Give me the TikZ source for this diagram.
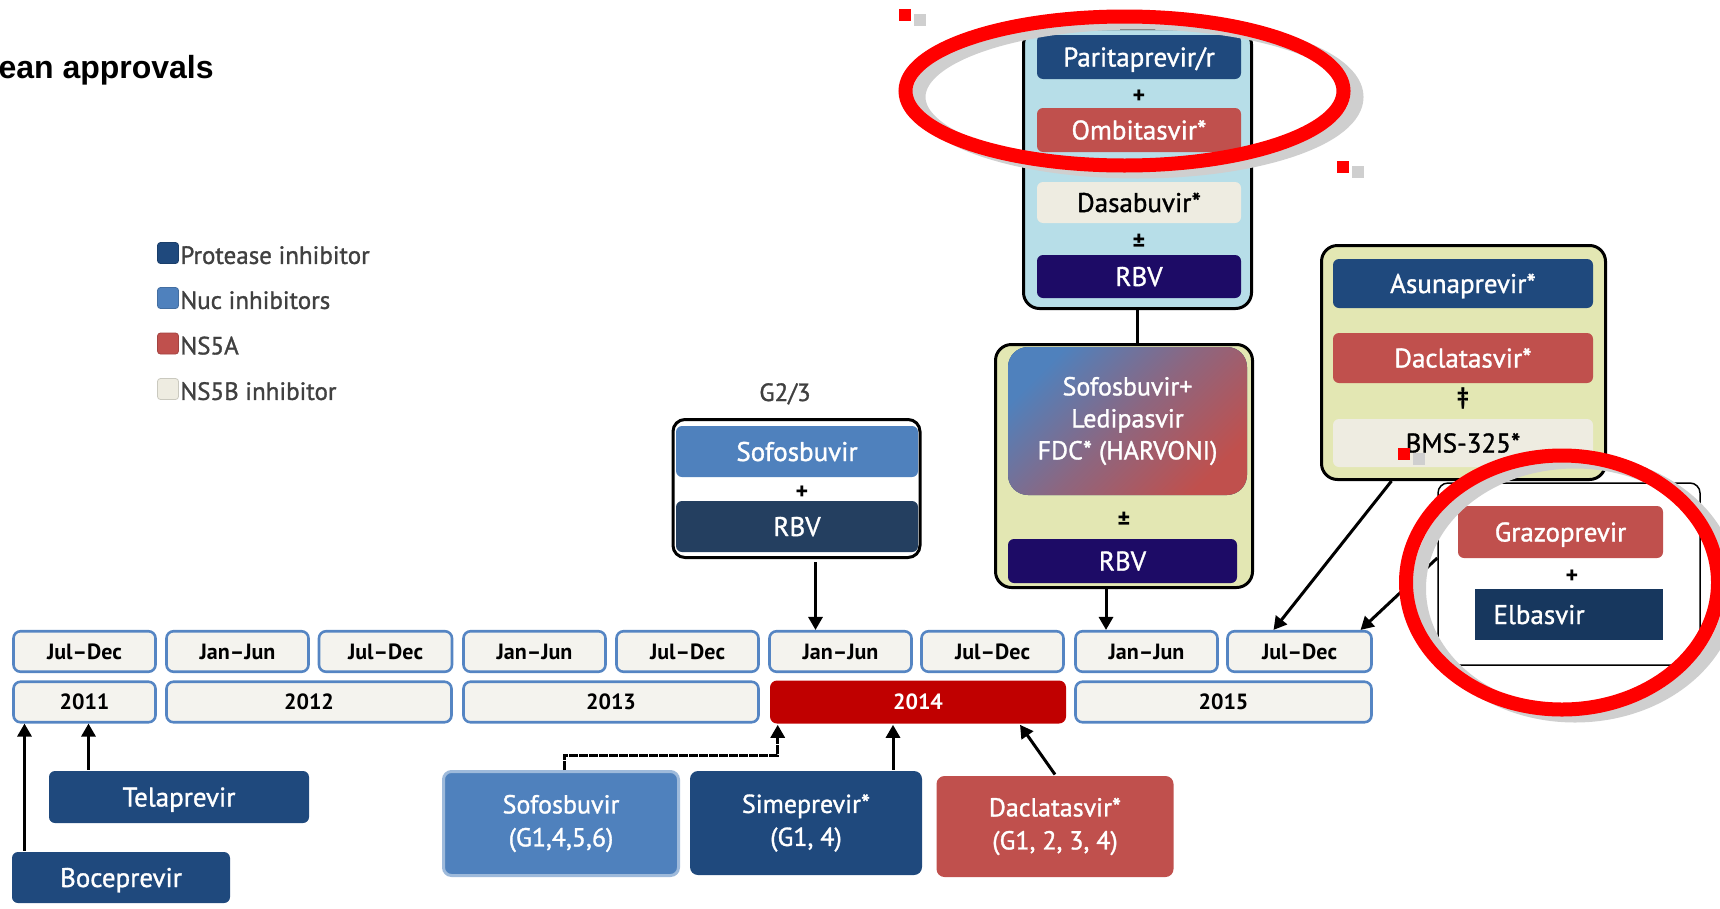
\documentclass[tikz,border=0pt]{standalone}
\usepackage{fontspec}
\setmainfont{PT Sans}
\newfontfamily\medfont{PT Sans}[FakeBold=1.2]
\newfontfamily\headfont{Liberation Sans}
\usetikzlibrary{arrows.meta, positioning}
\definecolor{cpi}{HTML}{1F497D}
\definecolor{cnuc}{HTML}{4F81BD}
\definecolor{cns5a}{HTML}{C0504D}
\definecolor{cns5b}{HTML}{EEECE1}
\definecolor{crbv}{HTML}{1D0B66}
\definecolor{cslate}{HTML}{243F60}
\definecolor{celb}{HTML}{17375E}
\definecolor{cpanelblue}{HTML}{B7DEE8}
\definecolor{cpanelyel}{HTML}{E3E7B3}
\definecolor{cperiod}{HTML}{F4F3EE}
\definecolor{cedge}{HTML}{5585C3}
\definecolor{cyear}{HTML}{C00000}
\definecolor{ctext}{HTML}{404040}
\definecolor{cshadow}{HTML}{CFCFCF}
\tikzset{
  drug/.style={fill=#1, rounded corners=6pt, text=white, inner sep=0pt, text height=19pt, text depth=0pt, font=\medfont\fontsize{27}{31}\selectfont},
  drug/.default=cpi,
  drugtwo/.style={fill=#1, rounded corners=8pt, text=white, inner sep=0pt, align=center, font=\medfont\fontsize{26}{33}\selectfont},
  drugtwo/.default=cpi,
  panel/.style={draw=black, fill=#1, rounded corners=16pt, line width=3pt},
  panel/.default=white,
  period/.style={draw=cedge, fill=cperiod, rounded corners=7pt, line width=2.6pt, minimum height=40.5pt, inner sep=0pt, text height=15.5pt, text depth=0pt, font=\bfseries\fontsize{22}{24}\selectfont},
  op/.style={inner sep=0pt, font=\bfseries\fontsize{24}{24}\selectfont},
  arrow/.style={-{Triangle[length=13pt, width=14pt]}, line width=3pt},
  legendkey/.style={fill=#1, draw=#1!85!black, line width=0.8pt, rounded corners=3pt, minimum size=21pt, inner sep=0pt},
  keytext/.style={inner sep=0pt, text=ctext, font=\medfont\fontsize{25}{28}\selectfont},
  ring/.style={draw=red, line width=14pt},
  ringshadow/.style={draw=cshadow, line width=14pt},
}
\begin{document}
\begin{tikzpicture}[x=1pt, y=-1pt, line width=3pt]
  \useasboundingbox (0,0) rectangle (1720,908);
  \node[anchor=base west, inner sep=0pt, font=\headfont\bfseries\fontsize{32}{36}\selectfont] (title) at (-3,78) {ean approvals};
  % legend
  \foreach \n/\y/\c/\t in {1/253/cpi/Protease inhibitor, 2/298/cnuc/Nuc inhibitors, 3/343.5/cns5a/NS5A, 4/389/cns5b/NS5B inhibitor}
    { \node[legendkey=\c] (k\n) at (168,\y) {};
      \node[keytext, anchor=base west] (kt\n) at (k\n.south east) {\t}; }
  % time line: half years, then years
  \foreach \n/\x/\w/\t in {1/84.5/142/Jul--Dec, 2/237.5/142/Jan--Jun, 3/385.5/133/Jul--Dec, 4/534.5/142/Jan--Jun, 5/687.5/142/Jul--Dec, 6/840.5/142/Jan--Jun, 7/992.5/142/Jul--Dec, 8/1146.5/142/Jan--Jun, 9/1299.5/144/Jul--Dec}
    \node[period, minimum width=\w pt] (h\n) at (\x,651.5) {\t};
  \foreach \n/\x/\w in {2011/84.5/142, 2012/309/285, 2013/611/295, 2015/1223.5/296}
    \node[period, minimum width=\w pt] (y\n) at (\x,702) {\n};
  \node[period, draw=none, fill=cyear, text=white, minimum width=296pt, minimum height=43pt] (y2014) at (918,702) {2014};
  % approvals below the line
  \node[drug, minimum width=260pt, minimum height=52pt] (telap) at (179,797) {Telaprevir};
  \node[drug, minimum width=218pt, minimum height=51pt] (bocep) at (121,877.5) {Boceprevir};
  \node[drugtwo=cnuc, draw=cnuc!55!white, line width=3pt, minimum width=235pt, minimum height=104pt] (sofg) at (561,823.5) {Sofosbuvir\\(G1,4,5,6)};
  \node[drugtwo, minimum width=232pt, minimum height=104pt] (simep) at (806,823) {Simeprevir*\\(G1, 4)};
  \node[drugtwo=cns5a, minimum width=237pt, minimum height=101pt] (dacg) at (1055,826.5) {Daclatasvir*\\(G1, 2, 3, 4)};
  \draw[arrow] ([xshift=14pt]bocep.north west) -- ([xshift=14pt]bocep.north west |- y2011.south);
  \draw[arrow] ([xshift=41pt]telap.north west) -- ([xshift=41pt]telap.north west |- y2011.south);
  \draw[arrow, dash pattern=on 9pt off 1pt] ([xshift=3pt]sofg.north) -- ++(0,-15) -| ([xshift=9pt]y2014.south west);
  \draw[arrow] ([xshift=87pt]simep.north) -- ([xshift=87pt]simep.north |- y2014.south);
  \draw[arrow] (dacg.north) -- ([xshift=102pt]y2014.south);
  % sofosbuvir + rbv for G2/3
  \node[anchor=base, inner sep=0pt, text=ctext, font=\medfont\fontsize{25}{28}\selectfont] (g23) at (785,401) {G2/3};
  \node[panel, rounded corners=12pt, minimum width=247pt, minimum height=138pt] (span) at (796.5,488.5) {};
  \node[drug=cnuc, minimum width=242pt, minimum height=51pt] (sofo) at (797,451.5) {Sofosbuvir};
  \node[op] (splus) at (802,493) {+};
  \node[drug=cslate, minimum width=242pt, minimum height=51pt] (srbv) at (797,526.5) {RBV};
  \draw[arrow] ([xshift=19pt, yshift=-3pt]span.south) -- ([xshift=19pt]span.south |- h6.north);
  % paritaprevir panel
  \node[panel=cpanelblue, minimum width=228pt, minimum height=280pt] (ppan) at (1137.5,168.5) {};
  \node[drug, minimum width=204pt, minimum height=44pt] (parit) at (1139,57) {Paritaprevir/r};
  \node[op] (pplusa) at (1139,97) {+};
  \node[drug=cns5a, minimum width=204pt, minimum height=44pt] (ombit) at (1139,130) {Ombitasvir*};
  \node[op] (pplusb) at (1139,167) {+};
  \node[drug=cns5b, text=black, minimum width=204pt, minimum height=41pt] (dasab) at (1139,202.5) {Dasabuvir*};
  \node[op] (ppm) at (1139,242) {±};
  \node[drug=crbv, minimum width=204pt, minimum height=43pt] (prbv) at (1139,276.5) {RBV};
  % harvoni panel
  \node[panel=cpanelyel, minimum width=257pt, minimum height=243pt] (hpan) at (1124,466) {};
  \node[drugtwo, left color=cnuc, right color=cns5a, middle color=cnuc!45!cns5a, shading angle=45, rounded corners=20pt, font=\medfont\fontsize{26}{32}\selectfont, minimum width=239pt, minimum height=148pt] (harv) at (1127.5,421) {Sofosbuvir+\\Ledipasvir\\FDC* (HARVONI)};
  \node[op] (hpm) at (1124,520) {±};
  \node[drug=crbv, minimum width=229pt, minimum height=44pt] (hrbv) at (1122.5,561) {RBV};
  \draw (ppan.south) -- (ppan.south |- hpan.north);
  \draw[arrow] ([xshift=-18pt]hpan.south) -- ([xshift=-18pt]hpan.south |- h8.north);
  % asunaprevir panel
  \node[panel=cpanelyel, minimum width=284pt, minimum height=234pt] (apan) at (1463.5,362.5) {};
  \node[drug, minimum width=260pt, minimum height=49pt] (asun) at (1463,283.5) {Asunaprevir*};
  \node[drug=cns5a, minimum width=260pt, minimum height=50pt] (dacla) at (1463,358) {Daclatasvir*};
  \node[op] (adag) at (1463,398) {‡};
  \node[drug=cns5b, text=black, minimum width=260pt, minimum height=48pt] (bms) at (1463,443) {BMS-325*};
  \draw[arrow] ([xshift=-72pt]apan.south) -- ([xshift=-26pt]h9.north);
  % grazoprevir panel
  \node[panel, line width=1.5pt, rounded corners=10pt, minimum width=262pt, minimum height=182pt] (gpan) at (1569,574) {};
  \node[drug=cns5a, minimum width=205pt, minimum height=52pt] (grazo) at (1560.5,532) {Grazoprevir};
  \node[op] (gplus) at (1572,577) {+};
  \node[drug=celb, rounded corners=0pt, text width=150pt, align=left, inner xsep=19pt, minimum height=51pt] (elba) at (1568.5,614.5) {Elbasvir};
  \draw[arrow] ([yshift=16pt]gpan.west) -- ([xshift=61pt]h9.north);
  % highlight rings and their handles
  \foreach \cx/\cy/\rx/\ry in {1124.5/91/219/74.5, 1562/582.5/156/127}
    { \draw[ringshadow] (\cx+13,\cy+6) ellipse [x radius=\rx, y radius=\ry];
      \draw[ring] (\cx,\cy) ellipse [x radius=\rx, y radius=\ry]; }
  \foreach \x/\y in {899/9, 1337/161, 1398/448}
    { \fill[red] (\x,\y) rectangle ++(12,12);
      \fill[cshadow] (\x+15,\y+5) rectangle ++(12,12); }
\end{tikzpicture}
\end{document}
